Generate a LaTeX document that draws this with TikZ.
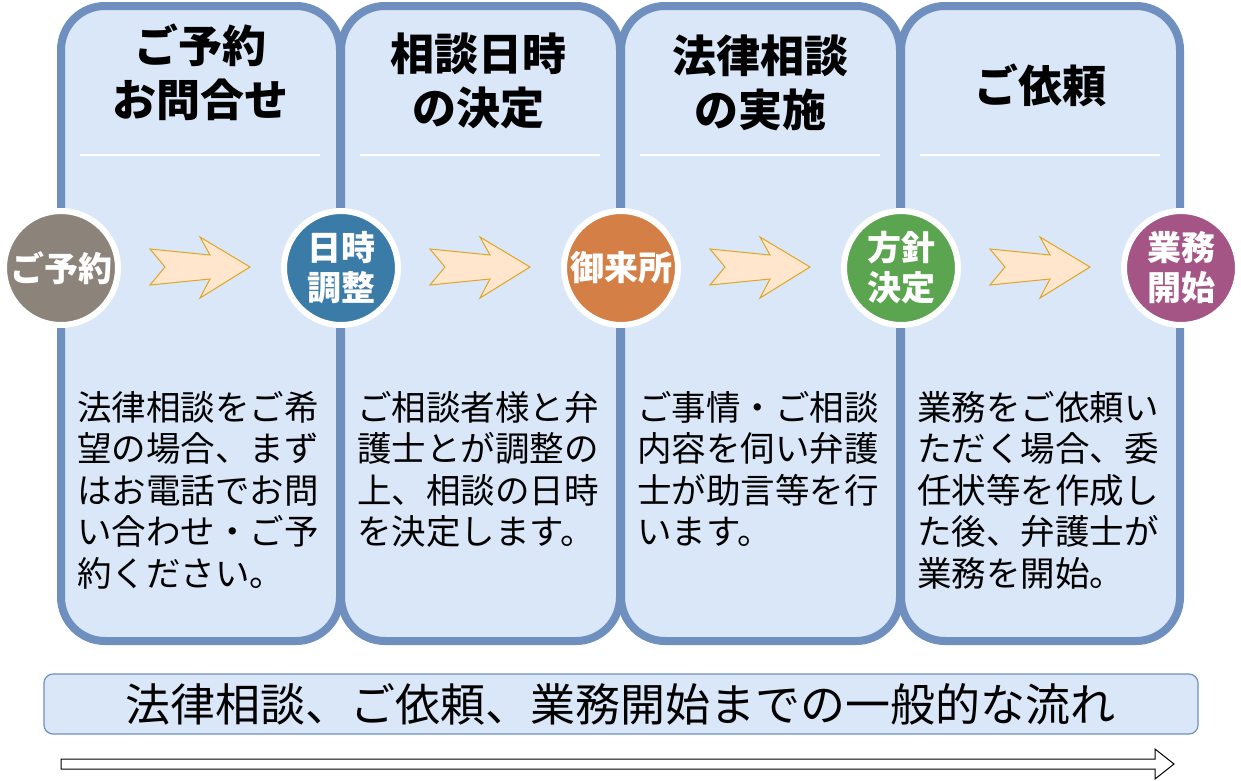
\documentclass[tikz,border=0pt]{standalone}
\usepackage{fontspec}
\setmainfont{Noto Sans CJK JP}
\definecolor{boxfill}{HTML}{DAE7F8}
\definecolor{boxline}{HTML}{6F8FBF}
\definecolor{arrfill}{HTML}{FFE6CC}
\definecolor{arrline}{HTML}{E0A428}
\definecolor{cgray}{HTML}{8C847B}
\definecolor{cblue}{HTML}{3B7BA8}
\definecolor{corange}{HTML}{D37F46}
\definecolor{cgreen}{HTML}{5CA550}
\definecolor{cpurple}{HTML}{A45585}
\tikzset{
  stagebox/.style={draw=boxline, fill=boxfill, line width=8pt, rounded corners=44pt},
  sepline/.style={draw=white, line width=2pt},
  titletext/.style={font={\fontsize{44}{54}\selectfont\bfseries}, align=center, inner sep=0pt},
  bodytext/.style={font={\fontsize{34.5}{41.5}\selectfont}, align=left, inner sep=0pt, anchor=north west},
  stepcircle/.style={circle, draw=white, line width=6pt, minimum size=114pt, inner sep=0pt,
    font={\fontsize{34}{40}\selectfont\bfseries}, text=white, align=center},
  flowarrow/.style={fill=arrfill, draw=arrline, line width=1pt, line join=miter},
  bandbox/.style={draw=boxline, fill=boxfill, line width=1.2pt, rounded corners=9pt},
}
\begin{document}
\begin{tikzpicture}[x=1pt,y=-1pt]
\useasboundingbox (0,0) rectangle (1241,780);
% stage boxes
\foreach \i in {0,1,2,3}{
  \draw[stagebox] (61+280*\i,6) rectangle (340+280*\i,641);
  \draw[sepline] (80+280*\i,155) -- (320+280*\i,155);
}
% arrows between circles
\foreach \i in {0,1,2,3}{
  \begin{scope}[xshift=280*\i]
  \draw[flowarrow] (150,249) -- (165,267) -- (150,285) -- (210,279) -- (200,298)
     -- (250,267) -- (200,237) -- (210,255) -- cycle;
  \end{scope}
}
% titles
\node[titletext] (t1) at (200.5,72) {ご予約\\お問合せ};
\node[titletext] (t2) at (478,81) {相談日時\\の決定};
\node[titletext] (t3) at (760.5,83) {法律相談\\の実施};
\node[titletext] (t4) at (1040.5,85) {ご依頼};
% body texts
\node[bodytext] (d1) at (77,391) {法律相談をご希\\望の場合、まず\\はお電話でお問\\い合わせ・ご予\\約ください。};
\node[bodytext] (d2) at (357,391) {ご相談者様と弁\\護士とが調整の\\上、相談の日時\\を決定します。};
\node[bodytext] (d3) at (637,391) {ご事情・ご相談\\内容を伺い弁護\\士が助言等を行\\います。};
\node[bodytext] (d4) at (917,391) {業務をご依頼い\\ただく場合、委\\任状等を作成し\\た後、弁護士が\\業務を開始。};
% circles
\node[stepcircle, fill=cgray] (c1) at (61,268) {ご予約};
\node[stepcircle, fill=cblue] (c2) at (341,268) {日時\\調整};
\node[stepcircle, fill=corange] (c3) at (621,268) {御来所};
\node[stepcircle, fill=cgreen] (c4) at (901,268) {方針\\決定};
\node[stepcircle, fill=cpurple] (c5) at (1181,268) {業務\\開始};
% bottom band
\draw[bandbox] (44,674) rectangle (1198,734);
\node[font={\fontsize{45}{54}\selectfont}, inner sep=0pt] (band) at (620.5,704) {法律相談、ご依頼、業務開始までの一般的な流れ};
% long arrow
\draw[fill=white, draw=black, line width=1pt, line join=miter]
  (61,759) -- (1155,759) -- (1155,749) -- (1174,764) -- (1155,779) -- (1155,769) -- (61,769) -- cycle;
\end{tikzpicture}
\end{document}
